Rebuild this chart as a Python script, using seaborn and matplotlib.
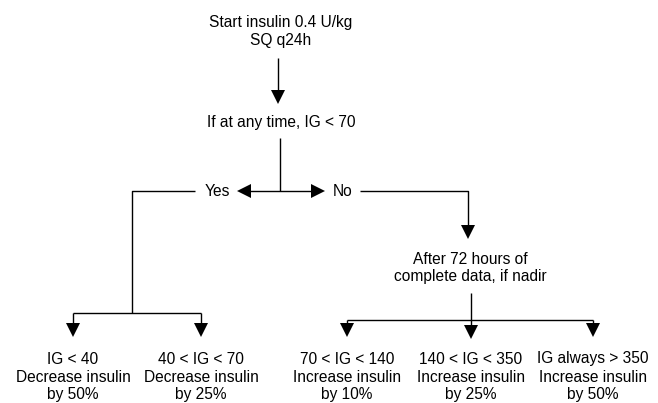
import matplotlib
matplotlib.use("Agg")
import matplotlib.pyplot as plt
import seaborn as sns

# ---- content ----
start_label = ["Start insulin 0.4 U/kg", "SQ q24h"]
decision_label = "If at any time, IG < 70"
yes_label = "Yes"
no_label = "No"
after_label = ["After 72 hours of", "complete data, if nadir"]
outcome_conditions = ["IG < 40", "40 < IG < 70", "70 < IG < 140", "140 < IG < 350", "IG always > 350"]
outcome_actions = ["Decrease insulin", "Decrease insulin", "Increase insulin", "Increase insulin", "Increase insulin"]
outcome_amounts = ["by 50%", "by 25%", "by 10%", "by 25%", "by 50%"]

# ---- layout (pixel coordinates) ----
outcome_x = [73, 201, 347, 471, 593]
W, H = 658, 403

sns.set_theme(style="white")
plt.rcParams["font.family"] = ["Liberation Sans", "DejaVu Sans"]

fig = plt.figure(figsize=(W / 100, H / 100), dpi=100)
ax = fig.add_axes([0, 0, 1, 1])
ax.set_xlim(0, W)
ax.set_ylim(H, 0)
ax.axis("off")

LW = 1.0
FS = 11.2
MS = 9.8
col = "black"


def line(xs, ys):
    ax.plot(xs, ys, color=col, lw=LW, solid_capstyle="butt")


def head(x, y, direction):
    # (x, y) is the tip of the arrow
    off = MS * 100 / 72 / 2
    mk = {"down": "v", "left": "<", "right": ">"}[direction]
    dx, dy = {"down": (0, -off), "left": (off, 0), "right": (-off, 0)}[direction]
    ax.plot([x + dx], [y + dy], marker=mk, markersize=MS, color=col,
            markeredgewidth=0, linestyle="none")


def txt(x, y, s):
    ax.text(x, y, s, ha="center", va="center", fontsize=FS, color=col)


# top text
txt(281, 22, start_label[0])
txt(281, 41, start_label[1])
line([278, 278], [58, 96])
head(278, 104, "down")

txt(281, 123, decision_label)
line([280, 280], [138, 191])
line([244, 318], [191, 191])
head(237, 191, "left")
head(325, 191, "right")
txt(217, 191, yes_label)
txt(343, 191, no_label)

# Yes branch
line([195, 132, 132], [191, 191, 313])
line([73, 201], [313, 313])
for x in outcome_x[:2]:
    line([x, x], [313, 330])
    head(x, 337, "down")

# No branch
line([360, 468, 468], [191, 191, 232])
head(468, 239, "down")
txt(470, 259, after_label[0])
txt(470, 277, after_label[1])
line([471, 471], [293, 332])
head(471, 339, "down")
line([347, 593], [320, 320])
for x in [outcome_x[2], outcome_x[4]]:
    line([x, x], [320, 330])
    head(x, 337, "down")

# outcomes
for x, c, a, m in zip(outcome_x, outcome_conditions, outcome_actions, outcome_amounts):
    txt(x, 359, c)
    txt(x, 377, a)
    txt(x, 395, m)

fig.savefig("out.png", dpi=100, facecolor="white")
